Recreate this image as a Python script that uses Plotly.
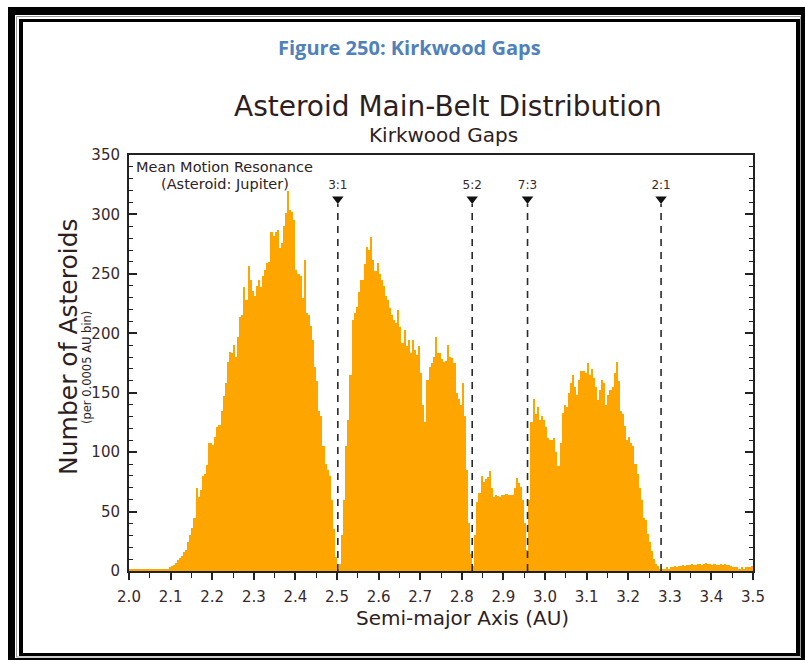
import numpy as np
import plotly.graph_objects as go

# histogram of asteroid semi-major axes (0.005 AU columns)
bin_start = 2.0
bin_width = 0.005
counts = [
    # 2.0 - 2.1
    2, 2, 2, 1, 1, 1, 1, 1, 1, 1, 1, 1, 1, 1, 1, 1, 2, 1, 2, 3,
    # 2.1 - 2.2
    4, 5, 7, 9, 11, 13, 16, 18, 24, 30, 36, 45, 70, 62, 68, 80, 82, 89, 108, 108,
    # 2.2 - 2.3
    106, 113, 121, 123, 135, 147, 158, 176, 184, 183, 190, 180, 197, 214, 215, 239, 228, 257, 245, 236,
    # 2.3 - 2.4
    231, 240, 245, 239, 248, 253, 259, 260, 285, 282, 285, 287, 272, 276, 290, 301, 320, 304, 302, 295,
    # 2.4 - 2.5
    253, 250, 248, 230, 262, 217, 215, 206, 194, 172, 160, 135, 130, 105, 90, 85, 80, 60, 35, 12,
    # 2.5 - 2.6
    2, 6, 30, 60, 105, 127, 165, 211, 217, 222, 235, 245, 245, 258, 273, 270, 281, 262, 252, 259,
    # 2.6 - 2.7
    250, 245, 240, 231, 228, 221, 215, 211, 209, 220, 205, 192, 203, 189, 194, 183, 194, 186, 182, 189,
    # 2.7 - 2.8
    167, 140, 125, 161, 172, 175, 180, 197, 183, 183, 178, 176, 177, 190, 180, 179, 175, 150, 145, 140,
    # 2.8 - 2.9
    158, 130, 85, 40, 14, 4, 30, 58, 66, 80, 75, 77, 79, 84, 70, 62, 64, 63, 62, 64,
    # 2.9 - 3.0
    64, 65, 64, 64, 64, 70, 78, 74, 71, 60, 40, 18, 60, 125, 145, 132, 138, 127, 130, 127,
    # 3.0 - 3.1
    121, 112, 110, 110, 112, 100, 88, 108, 133, 140, 138, 150, 158, 165, 155, 148, 161, 168, 168, 167,
    # 3.1 - 3.2
    175, 165, 170, 162, 155, 144, 152, 161, 158, 140, 148, 152, 155, 167, 176, 160, 135, 132, 122, 110,
    # 3.2 - 3.3
    113, 108, 105, 90, 82, 70, 60, 45, 43, 31, 24, 17, 10, 6, 4, 2, 2, 2, 3, 2,
    # 3.3 - 3.4
    3, 3, 4, 3, 4, 4, 5, 4, 5, 5, 6, 5, 5, 6, 6, 5, 6, 7, 6, 6,
    # 3.4 - 3.5
    5, 6, 5, 5, 6, 5, 6, 5, 5, 4, 3, 3, 3, 2, 3, 2, 3, 3, 3, 4,
]

resonance_labels = ["3:1", "5:2", "7:3", "2:1"]
resonance_au = [2.502, 2.825, 2.958, 3.279]
marker_level = 313

x_ticks = [2.0, 2.1, 2.2, 2.3, 2.4, 2.5, 2.6, 2.7, 2.8, 2.9, 3.0, 3.1, 3.2, 3.3, 3.4, 3.5]
y_ticks = [0, 50, 100, 150, 200, 250, 300, 350]

txt = "#3a2828"
font = "DejaVu Sans"

# plot area in pixels: x 129..753, y 155..571
def px(x):
    return (x - 129) / 624

def py(y):
    return (571 - y) / 416

bin_centers = bin_start + bin_width * (np.arange(len(counts)) + 0.5)

fig = go.Figure()

fig.add_trace(go.Bar(
    x=bin_centers,
    y=counts,
    width=bin_width,
    marker=dict(color="#ffa500", line=dict(width=0)),
    showlegend=False,
))

# dashed resonance lines
for a in resonance_au:
    fig.add_shape(type="line", xref="x", yref="y", x0=a, x1=a, y0=0, y1=marker_level - 4,
                  line=dict(color="#2a2a2a", width=1.6, dash="7px,6px"))

fig.add_trace(go.Scatter(
    x=resonance_au,
    y=[marker_level] * len(resonance_au),
    mode="markers+text",
    marker=dict(symbol="triangle-down", size=10, color="#111111"),
    text=resonance_labels,
    textposition="top center",
    textfont=dict(family=font, size=12, color=txt),
    showlegend=False,
    cliponaxis=False,
))

# page frame (outer thick border, thin grey line, inner border)
frame = [
    (8, 7, 805, 15), (8, 7, 15, 660), (801, 7, 805, 660), (8, 658, 805, 660),
    (19, 19, 800, 22), (19, 19, 23, 656), (796, 19, 800, 656), (19, 653, 800, 656),
]
for x0, y0, x1, y1 in frame:
    fig.add_shape(type="rect", xref="paper", yref="paper",
                  x0=px(x0), x1=px(x1), y0=py(y0), y1=py(y1),
                  fillcolor="black", line=dict(width=0), layer="above")
fig.add_shape(type="rect", xref="paper", yref="paper",
              x0=px(16.5), x1=px(800.5), y0=py(16.5), y1=py(657),
              fillcolor="rgba(0,0,0,0)", line=dict(color="#999999", width=1), layer="below")

annotations = [
    dict(text="<b>Figure 250: Kirkwood Gaps</b>", x=px(409), y=py(47),
         font=dict(family="Open Sans", size=20, color="#4f81bd")),
    dict(text="Asteroid Main-Belt Distribution", x=px(448), y=py(107),
         font=dict(family=font, size=28, color="#2e1e1e")),
    dict(text="Kirkwood Gaps", x=px(443), y=py(135),
         font=dict(family=font, size=20, color="#2e1e1e")),
    dict(text="Mean Motion Resonance", x=px(224), y=py(167),
         font=dict(family=font, size=14.5, color="#2e2222")),
    dict(text="(Asteroid: Jupiter)", x=px(225), y=py(184),
         font=dict(family=font, size=14.5, color="#2e2222")),
    dict(text="Number of Asteroids", x=px(68), y=py(347), textangle=-90,
         font=dict(family=font, size=25, color="#2e1e1e")),
    dict(text="(per 0.0005 AU bin)", x=px(87), y=py(368), textangle=-90,
         font=dict(family=font, size=11.5, color="#2e1e1e")),
    dict(text="Semi-major Axis (AU)", x=px(462), y=py(618),
         font=dict(family=font, size=20, color="#2e1e1e")),
]
for a in annotations:
    a.update(xref="paper", yref="paper", showarrow=False, xanchor="center", yanchor="middle",
             borderpad=0)

fig.update_layout(
    width=805,
    height=660,
    autosize=False,
    margin=dict(l=129, r=52, t=155, b=89),
    paper_bgcolor="white",
    plot_bgcolor="white",
    bargap=0,
    annotations=annotations,
    font=dict(family=font, color=txt),
    xaxis=dict(
        range=[2.0, 3.5],
        tickvals=x_ticks,
        tickformat=".1f",
        ticks="outside",
        ticklen=7,
        tickwidth=1.5,
        tickcolor="#222222",
        minor=dict(dtick=0.05, ticks="outside", ticklen=5, tickwidth=1.2, tickcolor="#222222"),
        showline=True,
        linecolor="#222222",
        linewidth=2,
        mirror=True,
        showgrid=False,
        zeroline=False,
        tickfont=dict(family=font, size=15, color=txt),
        ticklabelstandoff=4,
    ),
    yaxis=dict(
        range=[0, 350],
        tickvals=y_ticks,
        ticks="inside",
        ticklen=8,
        tickwidth=1.5,
        tickcolor="#222222",
        minor=dict(dtick=10, ticks="inside", ticklen=4, tickwidth=1.2, tickcolor="#222222"),
        showline=True,
        linecolor="#222222",
        linewidth=2,
        mirror="ticks",
        showgrid=False,
        zeroline=False,
        tickfont=dict(family=font, size=15, color=txt),
        ticklabelstandoff=4,
    ),
)

# drop the browser's default body margin so the figure sits at the page corner
fig.write_html("out.html", config={"displayModeBar": False},
               post_script="document.body.style.margin='0';")
